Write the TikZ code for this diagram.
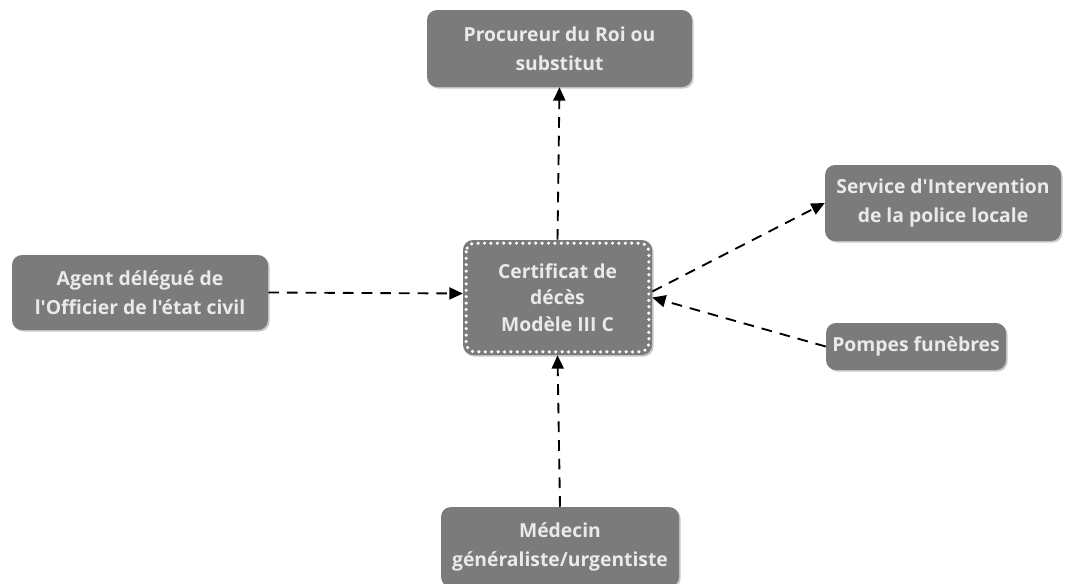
\documentclass[tikz,border=0pt]{standalone}
\usepackage{fontspec}
\setmainfont{Open Sans}[Ligatures=TeXOff]
\usetikzlibrary{arrows.meta,shadows}
\begin{document}
\begin{tikzpicture}[x=0.75pt,y=-0.75pt,
  box/.style={draw=none,fill=boxgray,rounded corners=7.5pt,
    drop shadow={shadow xshift=1.2pt,shadow yshift=-1.2pt,opacity=0.35,fill=black!60},
    text=textgray,font=\bfseries\fontsize{14.5}{22}\selectfont,align=center,inner sep=0pt},
  link/.style={draw=black,line width=1.4pt,dash pattern=on 8pt off 6pt,
    -{Triangle[length=10pt,width=9pt]}}]
\definecolor{boxgray}{HTML}{7B7B7B}
\definecolor{textgray}{HTML}{EAEAEA}
\useasboundingbox (0,0) rectangle (1073,583);
\node[box,minimum width=265*0.75pt,minimum height=77*0.75pt] (proc) at (559.5,48.5) {Procureur du Roi ou\\substitut};
\node[box,minimum width=236*0.75pt,minimum height=76*0.75pt] (serv) at (943,203) {Service d'Intervention\\de la police locale};
\node[box,minimum width=256*0.75pt,minimum height=75*0.75pt] (agent) at (140,292.5) {Agent délégué de\\l'Officier de l'état civil};
\node[box,minimum width=180*0.75pt,minimum height=47*0.75pt] (pomp) at (916,346.5) {Pompes funèbres};
\node[box,minimum width=238*0.75pt,minimum height=80*0.75pt] (med) at (560,547) {Médecin\\généraliste/urgentiste};
\node[box,minimum width=189*0.75pt,minimum height=115*0.75pt,font=\bfseries\fontsize{14.5}{20}\selectfont] (cert) at (557.5,297.5) {Certificat de\\décès\\Modèle III C};
\draw[white,line width=2.6pt,dash pattern=on 0pt off 4.8pt,line cap=round,rounded corners=6.5pt]
  ([xshift=2.6pt,yshift=-2.6pt]cert.north west) rectangle ([xshift=-2.6pt,yshift=2.6pt]cert.south east);
\draw[link] (cert.north) -- (proc.south);
\draw[link] (cert.east) ++(0,-6) coordinate (c1) (c1) -- (serv.west);
\draw[link] (agent.east) -- ([yshift=3pt]cert.west);
\draw[link] (pomp.west) -- (cert.east);
\draw[link] (med.north) -- (cert.south);
\end{tikzpicture}
\end{document}
